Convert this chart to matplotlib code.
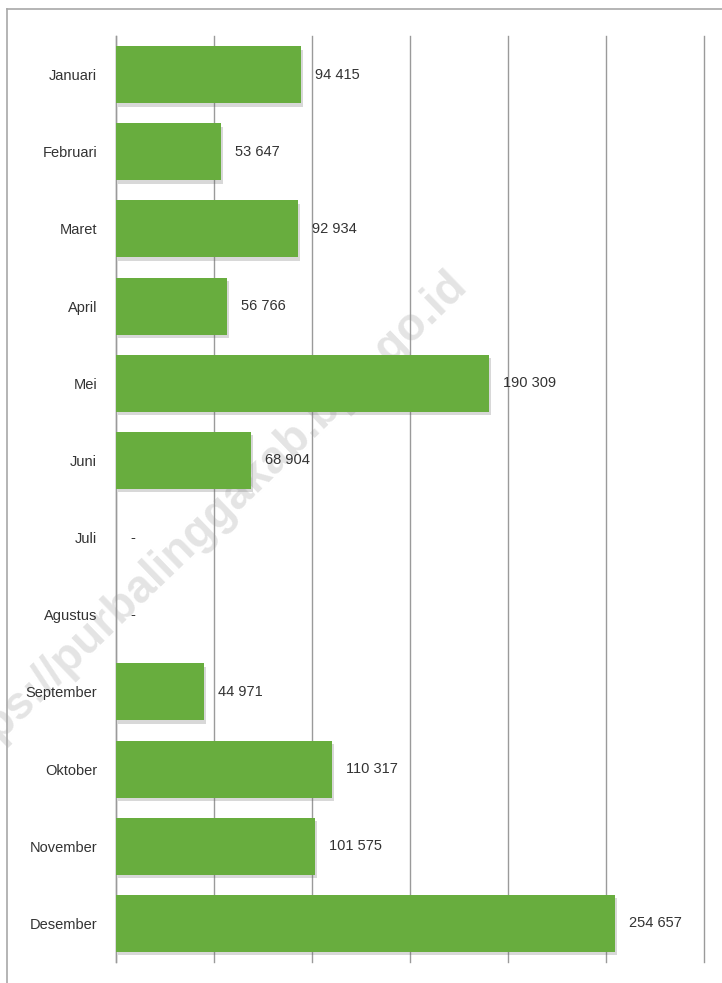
import matplotlib
matplotlib.use("Agg")
import matplotlib.pyplot as plt
import matplotlib.patheffects as pe
from matplotlib.lines import Line2D

months = ["Januari", "Februari", "Maret", "April", "Mei", "Juni", "Juli",
          "Agustus", "September", "Oktober", "November", "Desember"]
values = [94415, 53647, 92934, 56766, 190309, 68904, 0, 0, 44971, 110317, 101575, 254657]
labels = ["94 415", "53 647", "92 934", "56 766", "190 309", "68 904", "-", "-",
          "44 971", "110 317", "101 575", "254 657"]

plt.rcParams['font.family'] = ['Liberation Sans', 'DejaVu Sans']

fig = plt.figure(figsize=(7.22, 9.83), dpi=100)
ax = fig.add_axes([116/722, 1-962/983, (704-116)/722, (962-36)/983])
ax.set_zorder(2)
ax.set_facecolor("none")

bar_color = "#68ad3e"
text_color = "#333333"
grid_color = "#9a9a9a"

# watermark (behind the chart)
fig.text(204/722, 1-525/983, "https://purbalinggakab.bps.go.id", rotation=44,
         ha="center", va="center", fontsize=33, fontweight="bold",
         family=["Liberation Sans", "DejaVu Sans"], color="#e4e4e4", zorder=-1)

ypos = list(range(len(months)))
bars = ax.barh(ypos, values, height=0.74, color=bar_color, zorder=3)
for b in bars:
    b.set_path_effects([pe.SimplePatchShadow(offset=(1.5, -2.5), shadow_rgbFace="#666666", alpha=0.25),
                        pe.Normal()])

for y, v, lab in zip(ypos, values, labels):
    ax.annotate(lab, (v, y), xytext=(14, 0), textcoords="offset pixels",
                ha="left", va="center", fontsize=10.5, color=text_color, zorder=4)

ax.set_xlim(0, 300000)
ax.set_ylim(11.5, -0.5)
ax.set_xticks(range(0, 300001, 50000))
ax.xaxis.grid(True, color=grid_color, linewidth=1.0, zorder=0)
for gl in ax.get_xgridlines():
    gl.set_clip_on(False)
ax.set_xticklabels([])
ax.tick_params(axis="x", length=0)
ax.set_yticks(ypos)
ax.set_yticklabels(months, fontsize=10.5, color=text_color)
ax.tick_params(axis="y", length=0, pad=13.5)
for s in ["top", "right", "bottom"]:
    ax.spines[s].set_visible(False)
ax.spines["left"].set_color(grid_color)
ax.spines["left"].set_linewidth(1.0)

# outer frame (partially visible)
fig.add_artist(Line2D([7/722, 1.0], [1-8.5/983, 1-8.5/983], transform=fig.transFigure,
                      color="#a8a8a8", linewidth=1.2))
fig.add_artist(Line2D([7/722, 7/722], [0, 1-8.5/983], transform=fig.transFigure,
                      color="#a8a8a8", linewidth=1.2))

fig.savefig("out.png", dpi=100)
